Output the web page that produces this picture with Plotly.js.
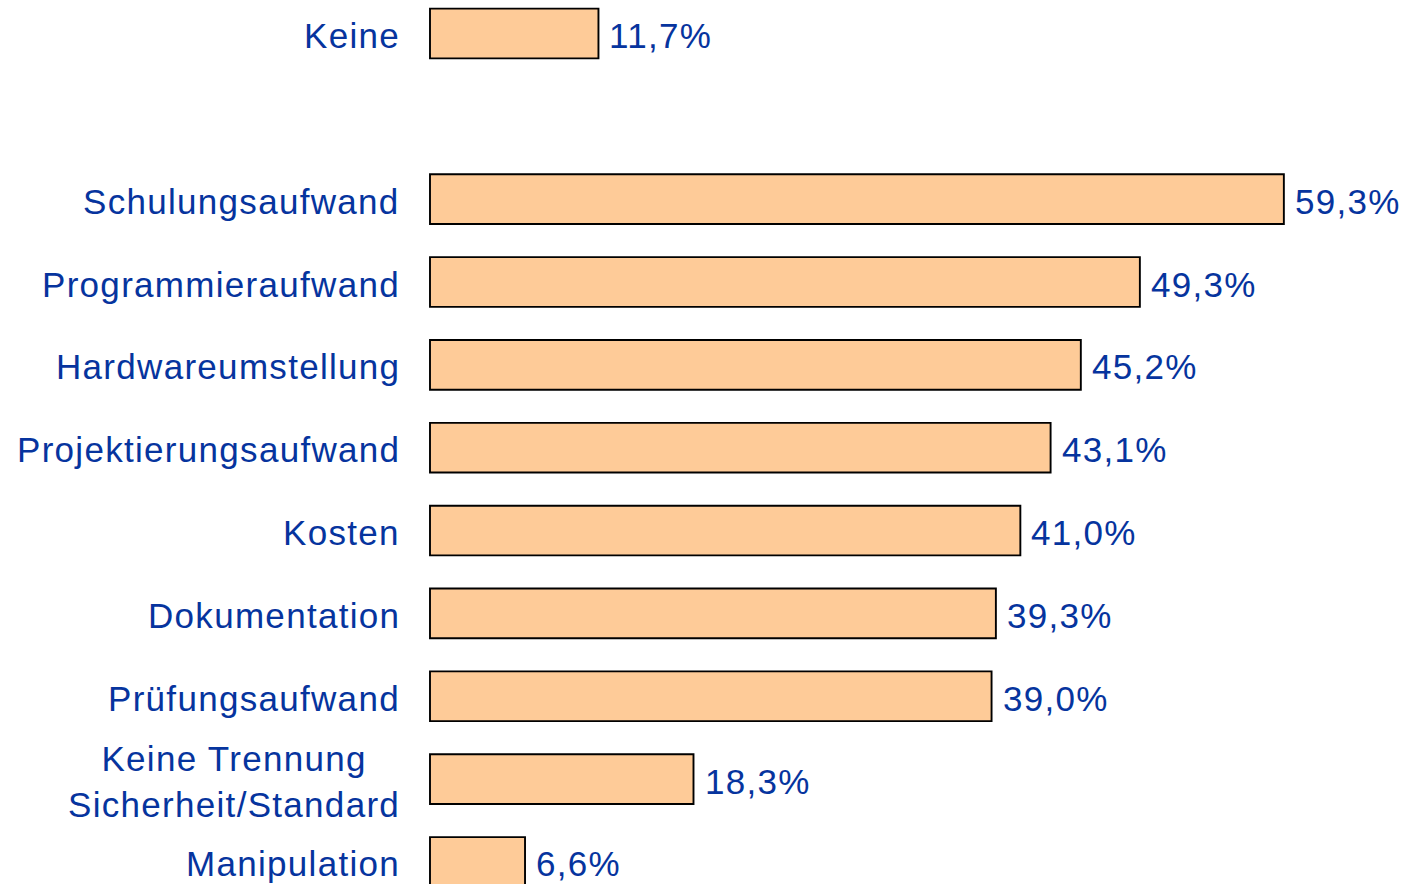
<!DOCTYPE html>
<html>
<head>
<meta charset="utf-8">
<script src="https://cdn.plot.ly/plotly-3.0.1.min.js"></script>
<style>
html, body { margin: 0; padding: 0; background: #ffffff; }
#chart { width: 1411px; height: 884px; }
text.annotation-text { letter-spacing: 1.3px; }
</style>
</head>
<body>
<div id="chart"></div>
<script>
const categories = ['Keine', 'Schulungsaufwand', 'Programmieraufwand', 'Hardwareumstellung', 'Projektierungsaufwand', 'Kosten', 'Dokumentation', 'Prüfungsaufwand', 'Keine Trennung<br>Sicherheit/Standard', 'Manipulation'];
const values = [11.7, 59.3, 49.3, 45.2, 43.1, 41.0, 39.3, 39.0, 18.3, 6.6];
const valueLabels = ['11,7%', '59,3%', '49,3%', '45,2%', '43,1%', '41,0%', '39,3%', '39,0%', '18,3%', '6,6%'];
const spacer = ' ';
const categoryOrder = [categories[0], spacer].concat(categories.slice(1));

const textColor = '#06349e';
const fontFamily = '"Liberation Sans", Arial, sans-serif';
const fontSize = 35;

const trace = {
  type: 'bar',
  orientation: 'h',
  y: categories,
  x: values,
  marker: { color: '#fecb98', line: { color: '#000000', width: 1.9 } },
  hoverinfo: 'skip'
};

const annotations = [];
categories.forEach((c, i) => {
  annotations.push({
    xref: 'paper', yref: 'y', x: 0, y: c,
    text: c, showarrow: false, xanchor: 'right', yanchor: 'middle',
    align: 'center', xshift: -18, yshift: -2,
    font: { family: fontFamily, size: fontSize, color: textColor }
  });
  annotations.push({
    xref: 'x', yref: 'y', x: values[i], y: c,
    text: valueLabels[i], showarrow: false, xanchor: 'left', yanchor: 'middle',
    xshift: 9, yshift: -2,
    font: { family: fontFamily, size: fontSize, color: textColor }
  });
});

const layout = {
  width: 1411, height: 884,
  margin: { l: 420, r: 0, t: 0, b: 0, pad: 0 },
  paper_bgcolor: '#ffffff', plot_bgcolor: '#ffffff',
  showlegend: false,
  bargap: 0.4,
  xaxis: { range: [-0.694, 68.13], visible: false, showgrid: false, zeroline: false, fixedrange: true },
  yaxis: {
    type: 'category', categoryorder: 'array', categoryarray: categoryOrder,
    range: [10.266, -0.404], showticklabels: false, showgrid: false, zeroline: false,
    showline: false, ticks: '', fixedrange: true
  },
  annotations: annotations
};

Plotly.newPlot('chart', [trace], layout, { displayModeBar: false, staticPlot: true });
</script>
</body>
</html>
